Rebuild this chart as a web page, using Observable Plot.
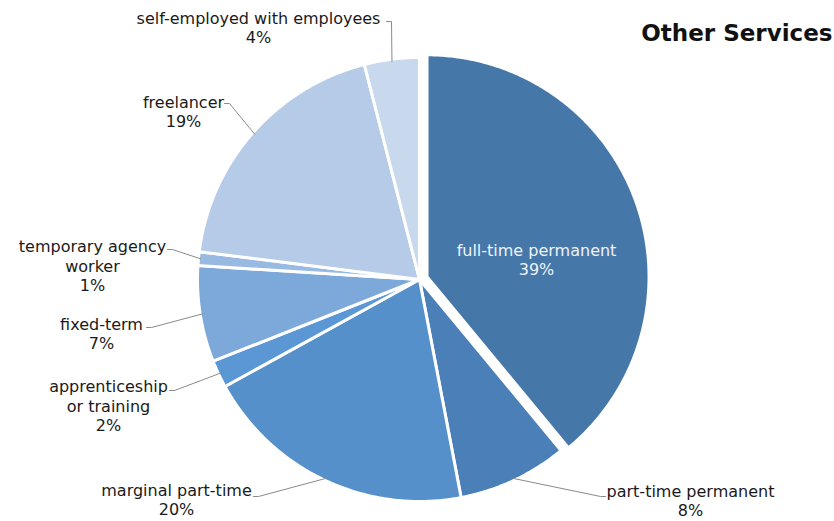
<!DOCTYPE html>
<html>
<head>
<meta charset="utf-8">
<script src="https://cdn.jsdelivr.net/npm/d3@7"></script>
<script src="https://cdn.jsdelivr.net/npm/@observablehq/plot@0.6"></script>
<style>
  html, body { margin: 0; padding: 0; background: #fff; }
  #chart svg { display: block; }
</style>
</head>
<body>
<div id="chart"></div>
<script>
// ---- data ----
const title = "Other Services";
const categories = [
  "full-time permanent",
  "part-time permanent",
  "marginal part-time",
  "apprenticeship or training",
  "fixed-term",
  "temporary agency worker",
  "freelancer",
  "self-employed with employees"
];
const displayLabels = [
  "full-time permanent",
  "part-time permanent",
  "marginal part-time",
  "apprenticeship\nor training",
  "fixed-term",
  "temporary agency\nworker",
  "freelancer",
  "self-employed with employees"
];
const shares = [39, 8, 20, 2, 7, 1, 19, 4];

// ---- style / layout ----
const colors = ["#4677a9", "#4a7fb8", "#5590cb", "#5a97d4", "#7da8da", "#98bae2", "#b5cbe7", "#c8d9ee"];
const W = 834, H = 521, CX = 419, CY = 279, R = 222;
const explode = [0.036, 0, 0, 0, 0, 0, 0, 0];
// label block centres and leader-line start points, in pixels (layout only)
const labelCenter = [[536, 259], [690, 500], [176, 499], [108, 405], [101, 333], [92, 265], [183, 111], [258, 27]];
const leaderStart = [null, [605, 496], [253, 496], [169, 390], [146, 327], [167, 249], [224, 103], [386, 21]];

const toUx = px => (px - CX) / R;
const toUy = py => (CY - py) / R;

const data = categories.map((c, i) => ({key: c, label: displayLabels[i], value: shares[i]}));
const arcs = d3.pie().sort(null).value(d => d.value)(data);

// slice polygons in unit coordinates (radius 1)
const slicePts = [];
arcs.forEach((a, i) => {
  const mid = (a.startAngle + a.endAngle) / 2;
  const ox = explode[i] * Math.sin(mid), oy = explode[i] * Math.cos(mid);
  const key = a.data.key;
  slicePts.push({key, x: ox, y: oy});
  const n = Math.max(2, Math.ceil((a.endAngle - a.startAngle) / 0.01));
  for (let k = 0; k <= n; k++) {
    const t = a.startAngle + (a.endAngle - a.startAngle) * k / n;
    slicePts.push({key, x: ox + Math.sin(t), y: oy + Math.cos(t)});
  }
});

// leader lines: label end -> short horizontal -> slice edge at mid-angle
const leaderPts = [];
arcs.forEach((a, i) => {
  const s = leaderStart[i];
  if (!s) return;
  const mid = (a.startAngle + a.endAngle) / 2;
  const ex = Math.sin(mid), ey = Math.cos(mid);
  const dir = ex < 0 ? 1 : -1;
  leaderPts.push({key: a.data.key, x: toUx(s[0]), y: toUy(s[1])});
  leaderPts.push({key: a.data.key, x: toUx(s[0] + dir * 5), y: toUy(s[1])});
  leaderPts.push({key: a.data.key, x: ex * 0.99, y: ey * 0.99});
});

const labels = arcs.map((a, i) => ({
  key: a.data.key,
  text: `${a.data.label}\n${a.data.value}%`,
  x: toUx(labelCenter[i][0]),
  y: toUy(labelCenter[i][1]),
  inside: i === 0
}));

const chart = Plot.plot({
  width: W,
  height: H,
  margin: 0,
  style: {background: "#fff", fontFamily: "'DejaVu Sans', Verdana, sans-serif"},
  x: {domain: [toUx(0), toUx(W)], range: [0, W], axis: null},
  y: {domain: [toUy(0), toUy(H)], range: [0, H], axis: null},
  color: {domain: categories, range: colors},
  marks: [
    Plot.line(slicePts, {x: "x", y: "y", z: "key", fill: "key", stroke: "white", strokeWidth: 3, strokeLinejoin: "round", curve: "linear-closed"}),
    Plot.line(leaderPts, {x: "x", y: "y", z: "key", stroke: "#8a8a8a", strokeWidth: 1, curve: "linear"}),
    Plot.text(labels.filter(d => !d.inside), {x: "x", y: "y", text: "text", fontSize: 16, lineHeight: 1.2, fill: "#1a1a1a", lineAnchor: "middle"}),
    Plot.text(labels.filter(d => d.inside), {x: "x", y: "y", text: "text", fontSize: 16, lineHeight: 1.2, fill: "#eef3f9", lineAnchor: "middle"}),
    Plot.text([title], {frameAnchor: "top-right", dx: -2, dy: 33, text: d => d, textAnchor: "end", lineAnchor: "middle", fontSize: 23, fontWeight: "bold", fill: "#111"})
  ]
});
document.getElementById("chart").appendChild(chart);
</script>
</body>
</html>
